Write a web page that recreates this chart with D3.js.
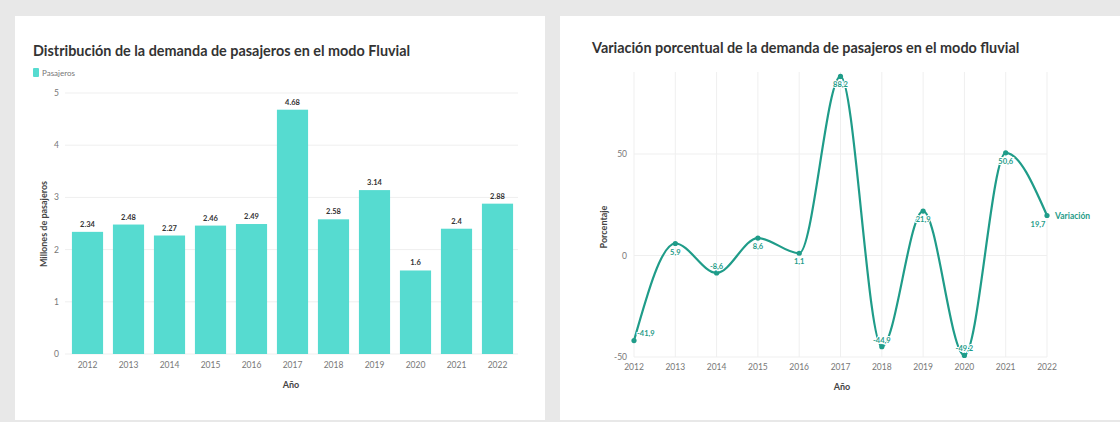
<!DOCTYPE html>
<html>
<head>
<meta charset="utf-8">
<script src="https://cdn.jsdelivr.net/npm/d3@7"></script>
<style>
  body { margin: 0; background: #e8e8e8; font-family: Lato, "Open Sans", sans-serif; }
  svg { display: block; }
</style>
</head>
<body>
<svg width="1120" height="422"></svg>
<script>
// Data
const years = ["2012", "2013", "2014", "2015", "2016", "2017", "2018", "2019", "2020", "2021", "2022"];
const pasajeros = [2.34, 2.48, 2.27, 2.46, 2.49, 4.68, 2.58, 3.14, 1.6, 2.4, 2.88];
const variacion = [-41.9, 5.9, -8.6, 8.6, 1.1, 88.2, -44.9, 21.9, -49.2, 50.6, 19.7];
const barTicks = [0, 1, 2, 3, 4, 5];
const lineTicks = [-50, 0, 50];

const svg = d3.select("svg");
const barColor = "#56dbd0";
const lineColor = "#1f9c89";
const fmt = v => String(v).replace(".", ",");

// panels
svg.append("rect").attr("x", 15).attr("y", 16).attr("width", 530).attr("height", 404).attr("fill", "#fff");
svg.append("rect").attr("x", 560).attr("y", 16).attr("width", 560).attr("height", 404).attr("fill", "#fff");

// ---------- left chart: bars ----------
const left = svg.append("g");
left.append("text").attr("x", 33).attr("y", 56)
  .attr("font-size", 14.4).attr("font-weight", 700).attr("fill", "#333")
  .text("Distribución de la demanda de pasajeros en el modo Fluvial");
left.append("rect").attr("x", 33).attr("y", 68).attr("width", 6).attr("height", 9).attr("rx", 1).attr("fill", barColor);
left.append("text").attr("x", 42).attr("y", 76).attr("font-size", 8).attr("fill", "#777").text("Pasajeros");

const x = d3.scaleBand().domain(years).range([67, 518]).paddingInner(0.24).paddingOuter(0.12);
const y = d3.scaleLinear().domain([0, 5]).range([354, 93]);

left.append("g").selectAll("line").data(barTicks).enter().append("line")
  .attr("x1", 65).attr("x2", 518)
  .attr("y1", d => y(d)).attr("y2", d => y(d))
  .attr("stroke", "#efefef");

left.append("g").selectAll("text").data(barTicks).enter().append("text")
  .attr("x", 59).attr("y", d => y(d) + 3)
  .attr("text-anchor", "end").attr("font-size", 8.5).attr("fill", "#777")
  .text(d => d);

left.append("g").selectAll("rect").data(years).enter().append("rect")
  .attr("x", d => x(d)).attr("width", x.bandwidth())
  .attr("y", (d, i) => y(pasajeros[i]))
  .attr("height", (d, i) => y(0) - y(pasajeros[i]))
  .attr("fill", barColor);

left.append("g").selectAll("text").data(years).enter().append("text")
  .attr("x", d => x(d) + x.bandwidth() / 2)
  .attr("y", (d, i) => y(pasajeros[i]) - 5)
  .attr("text-anchor", "middle").attr("font-size", 7.5).attr("font-weight", 700).attr("fill", "#333")
  .text((d, i) => pasajeros[i]);

left.append("g").selectAll("text").data(years).enter().append("text")
  .attr("x", d => x(d) + x.bandwidth() / 2).attr("y", 368)
  .attr("text-anchor", "middle").attr("font-size", 8.5).attr("fill", "#777")
  .text(d => d);

left.append("text").attr("x", 291).attr("y", 388)
  .attr("text-anchor", "middle").attr("font-size", 9).attr("font-weight", 700).attr("fill", "#444")
  .text("Año");
left.append("text").attr("transform", "translate(47,224) rotate(-90)")
  .attr("text-anchor", "middle").attr("font-size", 9).attr("font-weight", 700).attr("fill", "#444")
  .text("Millones de pasajeros");

// ---------- right chart: line ----------
const right = svg.append("g");
right.append("text").attr("x", 592).attr("y", 53)
  .attr("font-size", 14.4).attr("font-weight", 700).attr("fill", "#333")
  .text("Variación porcentual de la demanda de pasajeros en el modo fluvial");

const xp = d3.scalePoint().domain(years).range([634, 1047]);
const yp = d3.scaleLinear().domain([-50, 50]).range([357, 154]);

right.append("g").selectAll("line").data(years).enter().append("line")
  .attr("x1", d => xp(d)).attr("x2", d => xp(d))
  .attr("y1", 72).attr("y2", 357)
  .attr("stroke", "#efefef");
right.append("g").selectAll("line").data(lineTicks).enter().append("line")
  .attr("x1", 634).attr("x2", 1047)
  .attr("y1", d => yp(d)).attr("y2", d => yp(d))
  .attr("stroke", "#efefef");

right.append("g").selectAll("text").data(lineTicks).enter().append("text")
  .attr("x", 627).attr("y", d => yp(d) + 3)
  .attr("text-anchor", "end").attr("font-size", 8.5).attr("fill", "#777")
  .text(d => d);

right.append("g").selectAll("text").data(years).enter().append("text")
  .attr("x", d => xp(d)).attr("y", 370)
  .attr("text-anchor", "middle").attr("font-size", 8.5).attr("fill", "#777")
  .text(d => d);

right.append("text").attr("x", 842).attr("y", 390)
  .attr("text-anchor", "middle").attr("font-size", 9).attr("font-weight", 700).attr("fill", "#444")
  .text("Año");
right.append("text").attr("transform", "translate(607,227) rotate(-90)")
  .attr("text-anchor", "middle").attr("font-size", 9).attr("font-weight", 700).attr("fill", "#444")
  .text("Porcentaje");

const line = d3.line()
  .x((d, i) => xp(years[i]))
  .y(d => yp(d))
  .curve(d3.curveMonotoneX);

right.append("path").datum(variacion)
  .attr("d", line)
  .attr("fill", "none").attr("stroke", lineColor).attr("stroke-width", 2.2);

right.append("g").selectAll("circle").data(variacion).enter().append("circle")
  .attr("cx", (d, i) => xp(years[i])).attr("cy", d => yp(d))
  .attr("r", 2.6).attr("fill", lineColor);

right.append("g").selectAll("text").data(variacion).enter().append("text")
  .attr("x", (d, i) => xp(years[i]) + (i === 0 ? 3 : i === years.length - 1 ? -9 : 0))
  .attr("y", (d, i) => yp(d) + (i === 0 ? -5 : d >= 0 ? 11 : -4))
  .attr("text-anchor", (d, i) => i === 0 ? "start" : "middle")
  .attr("font-size", 7.5).attr("font-weight", 700).attr("fill", lineColor)
  .attr("stroke", "#fff").attr("stroke-width", 2).attr("paint-order", "stroke")
  .text(d => fmt(d));

right.append("text")
  .attr("x", xp(years[years.length - 1]) + 8)
  .attr("y", yp(variacion[variacion.length - 1]) + 3)
  .attr("font-size", 8.5).attr("font-weight", 700).attr("fill", lineColor)
  .text("Variación");
</script>
</body>
</html>
